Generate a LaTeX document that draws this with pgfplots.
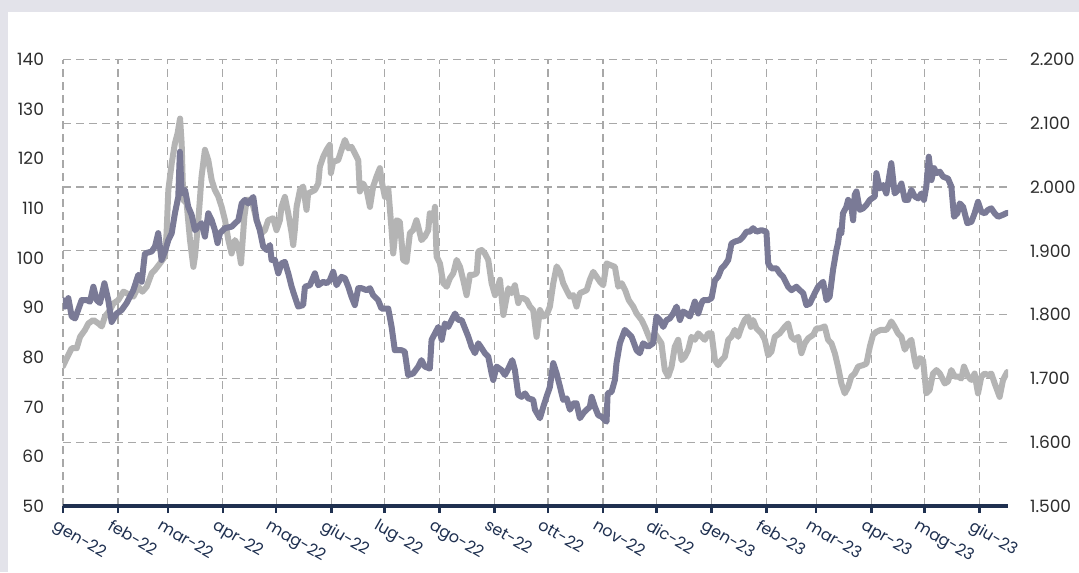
\documentclass[border=0pt]{standalone}
\usepackage{pgfplots}
\usepackage{pgfplotstable}
\pgfplotsset{compat=1.18}
\usepackage{fontspec}
\setmainfont{Poppins}
\definecolor{darkline}{RGB}{122,122,150}
\definecolor{grayline}{RGB}{180,180,180}
\definecolor{gridc}{RGB}{168,168,168}
\definecolor{navy}{RGB}{31,48,80}
\definecolor{bgc}{RGB}{227,227,234}
\definecolor{labc}{RGB}{45,45,45}

\pgfplotstableread{
d v
0 91.5
1.1 90.2
3.0 91.9
4.9 88.2
6.8 87.8
10.5 91.5
13.3 91.5
15.2 91.2
17.1 94.2
19.0 91.5
20.8 90.9
23.3 94.9
25.5 91.5
27.4 87.1
30.2 88.8
33.0 89.5
35.8 90.9
39.6 93.5
42.4 96.6
44.3 95.2
46.1 100.9
49.9 101.3
51.8 102.3
53.6 105.0
55.5 99.6
57.4 101.3
59.3 103.6
61.2 105.0
63.0 109.0
64.9 112.3
65.8 121.4
66.8 113.0
68.7 113.7
70.5 110.3
72.4 108.7
74.3 105.6
76.1 106.3
78.0 107.0
79.9 104.3
81.8 109.0
83.7 107.6
85.5 105.6
87.0 103.0
88.4 105.0
91.2 106.0
94.9 106.3
98.7 107.6
100.6 111.0
102.4 111.7
104.3 111.0
107.1 112.3
109.0 107.6
110.8 105.6
112.7 102.3
114.6 101.6
116.5 102.6
117.4 99.6
119.3 99.6
121.2 96.9
123.0 98.9
124.9 99.2
126.8 96.9
128.7 94.2
130.5 92.2
132.4 90.2
135.2 90.5
136.2 94.2
139.0 94.5
141.8 96.9
143.7 94.5
146.5 95.2
148.4 94.9
150.2 95.5
152.1 97.2
154.0 94.5
156.8 96.2
158.7 95.9
160.6 94.2
162.4 92.2
164.3 90.5
166.2 93.9
168.1 93.9
170.9 93.5
172.8 93.9
174.6 92.5
177.4 91.5
179.3 89.8
183.1 89.8
185.0 86.1
186.8 81.4
190.6 81.4
192.4 81.1
194.3 76.4
197.1 76.7
200.0 78.1
201.8 79.4
203.7 78.1
206.5 77.7
207.5 83.5
209.4 84.8
211.3 86.1
213.2 83.5
215.0 86.8
216.9 86.1
218.8 87.5
220.7 88.8
222.5 87.5
224.4 87.5
226.3 85.8
228.2 84.1
230.0 82.1
231.9 80.8
233.8 82.8
235.7 81.8
237.5 80.8
239.4 80.1
241.3 76.7
242.2 75.4
244.1 78.1
246.9 77.4
248.8 76.4
250.7 77.7
252.9 79.4
254.4 77.4
256.3 72.4
258.2 72.0
260.1 72.7
261.9 71.7
264.7 71.4
265.7 69.4
268.5 67.7
270.4 70.0
272.2 72.0
274.1 74.0
276.0 78.8
277.9 76.7
279.8 74.0
281.6 71.4
283.5 71.7
285.4 69.4
287.3 70.7
289.1 70.7
291.0 67.7
292.9 68.7
294.8 69.4
296.6 70.0
297.6 72.0
299.4 70.0
301.3 68.3
303.2 68.0
304.1 67.7
306.0 67.0
306.6 72.7
308.8 73.0
310.7 75.4
311.6 78.8
313.5 82.8
316.3 85.5
318.2 84.8
320.1 84.1
322.9 81.4
324.7 80.8
326.6 82.8
329.4 82.1
332.2 82.8
334.1 88.2
336.0 87.5
337.9 86.1
339.8 87.5
341.6 87.8
343.5 88.8
345.4 90.2
347.3 87.5
349.1 89.2
351.0 88.8
352.9 88.2
354.8 90.2
355.7 91.2
357.6 88.8
359.5 90.9
360.4 91.5
363.2 91.5
365.1 91.9
367.0 95.5
368.8 96.2
370.7 97.9
372.6 98.6
374.5 99.6
376.3 102.9
378.2 103.3
381.0 103.6
382.9 104.3
384.8 105.3
386.7 105.3
388.5 106.0
390.4 105.3
393.2 105.6
396.0 105.3
397.0 98.9
398.8 97.9
401.7 97.9
403.5 96.9
405.4 96.2
408.2 94.2
410.1 93.5
412.9 94.2
414.8 93.5
416.7 92.9
418.5 90.5
420.4 90.8
423.2 92.9
425.1 94.2
427.9 95.2
429.8 91.5
431.6 92.2
433.5 97.6
435.4 101.6
436.3 103.0
437.3 105.6
438.2 105.0
439.1 109.0
441.0 110.3
442.0 111.7
443.8 110.3
444.8 107.6
445.7 112.7
446.7 113.4
448.5 109.7
450.4 110.0
452.3 110.7
454.2 111.7
457.0 112.4
457.9 117.1
459.8 114.0
461.7 114.7
463.5 113.0
464.8 115.7
466.3 119.1
468.2 113.0
470.1 113.7
472.0 115.0
473.9 111.7
475.7 111.7
477.6 113.7
479.5 112.4
481.4 112.0
483.2 113.0
484.7 111.7
486.0 114.4
487.4 120.4
488.9 115.7
490.4 118.1
491.7 117.1
493.6 117.4
495.4 116.4
498.2 116.0
500.1 114.4
501.6 108.3
503.5 109.0
504.8 111.0
506.7 110.3
509.1 107.0
511.4 107.3
513.2 109.0
515.1 111.3
517.0 109.3
518.9 109.0
520.8 109.7
522.6 110.0
524.5 109.0
526.4 108.3
529.2 108.7
531.5 109.1
}\darkdata

\pgfplotstableread{
d v
0 78.2
2.1 79.8
4.9 81.8
7.7 81.8
9.6 84.1
12.4 85.5
14.3 86.8
17.1 87.5
19.9 86.8
21.8 86.2
23.6 88.2
26.5 89.5
28.3 90.8
31.1 91.5
34.0 93.2
35.8 92.9
39.6 92.2
42.4 94.2
44.7 93.2
47.1 94.2
49.9 96.9
51.8 97.6
54.6 98.9
57.4 100.3
58.3 104.9
59.3 113.7
61.2 119.1
63.0 123.1
64.5 125.1
65.9 128.1
66.8 123.1
67.7 111.7
69.6 111.0
71.5 103.6
73.4 98.2
74.3 100.3
76.2 107.6
78.0 116.4
79.9 121.8
81.8 119.7
83.7 115.7
85.5 113.7
87.4 112.4
89.3 110.3
91.2 107.6
93.1 103.6
94.9 100.9
96.8 103.6
98.7 102.3
100.2 98.9
102.1 108.3
103.4 111.7
106.2 111.7
109.0 107.6
111.8 105.0
113.7 105.6
115.5 107.6
118.3 108.0
120.2 105.6
122.1 107.6
123.0 110.3
124.9 112.3
126.8 109.0
128.7 105.0
129.6 102.6
130.5 105.6
131.5 110.3
133.4 113.7
135.2 114.4
137.1 109.7
138.0 113.0
141.8 113.7
143.7 115.0
144.6 118.4
146.5 120.4
148.4 121.8
150.2 122.8
150.8 117.1
152.1 119.4
154.9 119.7
156.8 121.8
158.7 123.8
160.6 122.1
162.4 122.4
164.3 121.1
166.2 119.7
167.1 113.4
169.0 115.0
170.9 113.7
172.8 110.3
174.6 114.4
176.5 116.4
178.4 118.1
179.3 115.7
181.2 112.3
183.1 114.0
185.0 105.6
185.9 100.9
187.8 107.6
189.6 107.3
191.5 99.6
193.4 99.2
195.3 105.0
197.1 105.6
199.0 107.6
200.0 106.3
201.8 103.6
203.7 104.3
205.6 105.6
206.5 109.0
208.4 107.6
209.4 110.3
210.3 100.3
212.2 98.9
214.1 94.9
216.0 94.2
217.8 95.9
219.7 96.9
221.6 99.6
223.5 98.2
225.3 95.6
227.2 92.5
229.1 96.6
231.0 96.6
232.9 96.9
233.8 101.3
235.7 101.6
237.5 100.9
239.4 99.6
241.3 94.9
243.2 92.5
246.0 95.6
247.9 88.5
250.7 93.9
252.5 92.9
254.4 94.5
256.3 90.9
257.2 91.9
259.1 91.9
261.0 91.5
262.9 90.2
264.7 89.5
266.6 84.1
268.5 89.5
270.4 88.2
272.2 88.5
274.1 90.2
276.0 94.9
277.9 98.3
279.8 97.2
281.6 94.9
283.5 93.5
285.4 92.2
287.3 92.5
289.1 90.2
291.0 92.9
292.9 93.2
294.8 93.5
296.6 95.6
298.5 97.2
300.4 96.2
302.3 95.2
304.1 94.5
306.0 98.9
307.9 98.6
310.7 98.2
312.6 94.2
314.5 94.9
316.5 93.5
318.5 91.5
321.0 90.2
322.9 88.8
325.7 87.5
327.6 86.1
331.3 82.8
333.2 84.8
336.9 82.8
338.8 77.4
340.7 76.1
342.6 78.1
344.4 82.1
346.3 83.5
348.2 79.4
350.1 80.1
351.9 81.4
353.8 84.1
355.7 83.5
357.6 84.8
359.5 84.1
361.3 83.5
363.2 84.8
365.1 84.8
367.0 79.4
368.8 78.4
370.7 79.4
372.6 80.1
374.5 83.5
376.3 84.1
378.2 85.5
380.1 84.1
382.0 86.1
383.8 87.5
385.7 88.2
387.2 86.1
388.5 87.5
390.4 85.8
393.2 84.8
395.1 83.5
397.0 80.4
398.8 81.1
400.7 84.1
403.5 84.8
406.3 86.1
408.2 86.8
410.1 84.1
412.0 83.5
413.9 84.1
415.7 80.8
417.6 82.8
419.5 83.8
422.3 84.5
424.2 85.8
426.0 85.8
428.8 86.2
430.7 83.5
432.6 82.8
434.5 80.8
436.3 78.1
438.2 74.7
440.1 72.7
442.0 74.0
443.8 76.1
445.7 76.7
447.6 78.1
450.4 78.4
452.3 78.7
454.2 82.1
456.0 84.5
457.9 85.1
460.4 85.5
463.5 85.5
464.8 86.1
466.3 87.2
468.2 86.1
470.1 84.8
472.0 84.1
473.9 81.5
475.7 82.8
477.6 83.5
479.5 79.4
480.4 78.1
482.3 79.8
484.2 79.4
486.0 72.7
487.9 73.4
489.8 76.7
491.7 77.4
493.6 76.7
496.4 74.7
498.2 75.1
500.1 77.4
502.0 76.1
503.9 76.1
505.7 75.7
507.2 78.1
509.5 76.1
511.4 75.4
513.2 76.7
515.1 72.7
517.0 76.1
518.9 76.7
520.8 76.4
522.6 76.7
524.5 74.7
527.3 72.0
529.2 75.4
531.5 77.0
}\graydata

\begin{document}
\begin{tikzpicture}[x=1pt,y=1pt]
\fill[bgc] (0,0) rectangle (539.5,286);
\fill[white] (4,0) rectangle (539.5,280);
\useasboundingbox (0,0) rectangle (539.5,286);
% right axis: horizontal grid + right labels
\begin{axis}[
  at={(31.5pt,33pt)}, anchor=south west,
  width=472.5pt, height=223.25pt, scale only axis,
  xmin=0, xmax=532, ymin=1500, ymax=2200,
  axis x line=none, axis y line*=right,
  y axis line style={draw=none},
  ytick={1500,1600,1700,1800,1900,2000,2100,2200},
  yticklabels={1.500,1.600,1.700,1.800,1.900,2.000,2.100,2.200},
  ytick style={draw=none},
  ymajorgrids,
  grid style={gridc, line width=0.6pt, dash pattern=on 4pt off 2.5pt},
  yticklabel style={font=\fontsize{8.5}{10}\selectfont, text=labc, anchor=west, xshift=7.5pt},
]
\end{axis}
% left axis: data, month grid, bottom axis
\begin{axis}[
  at={(31.5pt,33pt)}, anchor=south west,
  width=472.5pt, height=223.25pt, scale only axis,
  xmin=0, xmax=532, ymin=50, ymax=140,
  /pgf/number format/assume math mode=true,
  axis x line*=bottom, axis y line*=left,
  x axis line style={draw=navy, line width=1.6pt, -},
  y axis line style={draw=none},
  xtick={0,31,59,90,120,151,181,212,243,273,304,334,365,396,424,455,485,516},
  xticklabels={gen-22,feb-22,mar-22,apr-22,mag-22,giu-22,lug-22,ago-22,set-22,ott-22,nov-22,dic-22,gen-23,feb-23,mar-23,apr-23,mag-23,giu-23},
  xtick style={draw=navy, line width=1.3pt},
  tick align=outside, major tick length=3.5pt,
  xmajorgrids,
  grid style={gridc, line width=0.6pt, dash pattern=on 4pt off 2.5pt},
  xticklabel style={font=\fontsize{8}{9}\selectfont, text=navy, rotate=-30, anchor=north west, xshift=-1.5pt, yshift=-3pt, inner sep=0.5pt},
  ytick={50,60,70,80,90,100,110,120,130,140},
  ytick style={draw=none},
  yticklabel style={font=\fontsize{8.5}{10}\selectfont, text=labc, anchor=east, xshift=-2.5pt},
]
\addplot[grayline, line width=3pt, line join=round, line cap=round, mark=none] table[x=d,y=v] {\graydata};
\addplot[darkline, line width=3pt, line join=round, line cap=round, mark=none] table[x=d,y=v] {\darkdata};
\end{axis}
\end{tikzpicture}
\end{document}
